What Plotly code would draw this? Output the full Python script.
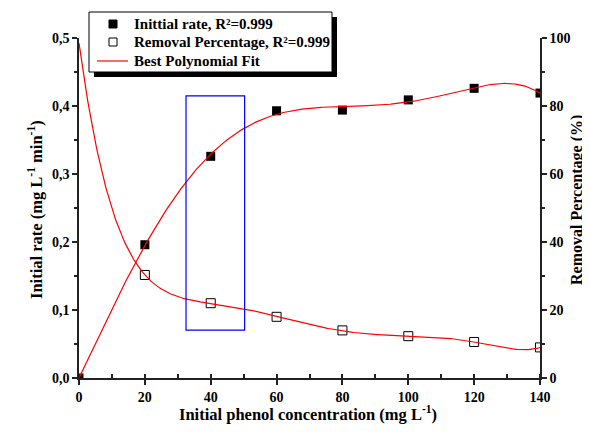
import numpy as np
import plotly.graph_objects as go

conc = [0, 20, 40, 60, 80, 100, 120, 140]
rate = [0.0, 0.196, 0.326, 0.393, 0.394, 0.409, 0.426, 0.419]
removal = [98.5, 30.3, 22.0, 18.0, 14.0, 12.3, 10.6, 9.0]

x_ticks = [0, 20, 40, 60, 80, 100, 120, 140]
y_ticks = [0, 0.1, 0.2, 0.3, 0.4, 0.5]
y_ticktext = ["0,0", "0,1", "0,2", "0,3", "0,4", "0,5"]
y2_ticks = [0, 20, 40, 60, 80, 100]
legend_labels = ["Inittial rate, R²=0.999", "Removal Percentage, R²=0.999", "Best Polynomial Fit"]

FONT = "Liberation Serif"

xs = np.linspace(0, 140, 400)
rate_fit = np.polyval(np.polyfit(conc, rate, 6), xs)
rem_fit = np.polyval(np.polyfit(conc, removal, 6), xs)

# screen pixel -> paper helpers (plot area spans 79..540 x, 38..378 y on screen)
def px(X):
    return (X - 79) / 461

def py(Y):
    return (378 - Y) / 340

fig = go.Figure()
fig.add_trace(go.Scatter(x=conc, y=rate, mode="markers", name=legend_labels[0], showlegend=False,
                         marker=dict(symbol="square", size=9, color="black")))
fig.add_trace(go.Scatter(x=conc[1:], y=removal[1:], mode="markers", yaxis="y2",
                         name=legend_labels[1], showlegend=False,
                         marker=dict(symbol="square-open", size=9, color="black", line=dict(width=1))))
fig.add_trace(go.Scatter(x=xs, y=rate_fit, mode="lines", name=legend_labels[2], showlegend=False,
                         line=dict(color="red", width=1.2)))
fig.add_trace(go.Scatter(x=xs, y=rem_fit, mode="lines", yaxis="y2", showlegend=False,
                         line=dict(color="red", width=1.2)))

fig.add_shape(type="rect", xref="x", yref="y", x0=32.5, x1=50.3, y0=0.0705, y1=0.415,
              line=dict(color="blue", width=1.2))

# legend (drawn manually to match the boxed, shadowed look)
fig.add_shape(type="rect", xref="paper", yref="paper", x0=px(94), x1=px(337), y0=py(77), y1=py(17),
              fillcolor="black", line=dict(width=0))
fig.add_shape(type="rect", xref="paper", yref="paper", x0=px(89), x1=px(332), y0=py(72), y1=py(12),
              fillcolor="white", line=dict(color="black", width=1))
fig.add_shape(type="rect", xref="paper", yref="paper", x0=px(109), x1=px(117), y0=py(28), y1=py(20),
              fillcolor="black", line=dict(color="black", width=1))
fig.add_shape(type="rect", xref="paper", yref="paper", x0=px(109), x1=px(117), y0=py(46), y1=py(38),
              fillcolor="white", line=dict(color="black", width=1))
fig.add_shape(type="line", xref="paper", yref="paper", x0=px(97), x1=px(128), y0=py(61), y1=py(61),
              line=dict(color="red", width=1.2))
for lab, yy in zip(legend_labels, [24, 42, 61]):
    fig.add_annotation(text=lab, xref="paper", yref="paper", x=px(132), y=py(yy),
                       xanchor="left", yanchor="middle", showarrow=False,
                       font=dict(family=FONT, size=15, color="black", weight="bold"))

title_font = dict(family=FONT, size=16.5, color="black", weight="bold")
# axis titles
fig.add_annotation(text="Initial phenol concentration (mg L<sup>-1</sup>)", xref="paper", yref="paper",
                   x=px(308), y=py(426), xanchor="center", yanchor="bottom", showarrow=False,
                   font=title_font)
fig.add_annotation(text="Initial rate (mg L<sup>-1</sup> min<sup>-1</sup>)", xref="paper", yref="paper",
                   x=px(35), y=py(210), xanchor="center", yanchor="middle", showarrow=False,
                   textangle=-90, font=title_font)
fig.add_annotation(text="Removal Percentage (%)", xref="paper", yref="paper",
                   x=px(577), y=py(200), xanchor="center", yanchor="middle", showarrow=False,
                   textangle=-90, font=dict(family=FONT, size=16, color="black", weight="bold"))

axis_common = dict(showline=True, linecolor="#222", linewidth=1.5, showgrid=False, zeroline=False,
                   ticks="outside", ticklen=5, tickwidth=1.5, tickcolor="#222", automargin=False,
                   tickfont=dict(family=FONT, size=14, color="black", weight="bold"))

fig.update_layout(
    width=582, height=418,
    margin=dict(l=71, r=50, t=30, b=48, autoexpand=False),
    plot_bgcolor="white", paper_bgcolor="white",
    font=dict(family=FONT, color="black"),
    showlegend=False,
    xaxis=dict(range=[0, 140], tickvals=x_ticks,
               minor=dict(dtick=10, tick0=0, ticks="inside", ticklen=4, tickwidth=1.5, tickcolor="#222"),
               **axis_common),
    yaxis=dict(range=[0, 0.5], tickvals=y_ticks, ticktext=y_ticktext,
               minor=dict(dtick=0.05, tick0=0, ticks="outside", ticklen=3, tickwidth=1.5, tickcolor="#222"),
               **axis_common),
    yaxis2=dict(range=[0, 100], tickvals=y2_ticks, overlaying="y", side="right",
                minor=dict(dtick=10, tick0=0, ticks="outside", ticklen=3, tickwidth=1.5, tickcolor="#222"),
                **axis_common),
)

fig.write_html("out.html")
